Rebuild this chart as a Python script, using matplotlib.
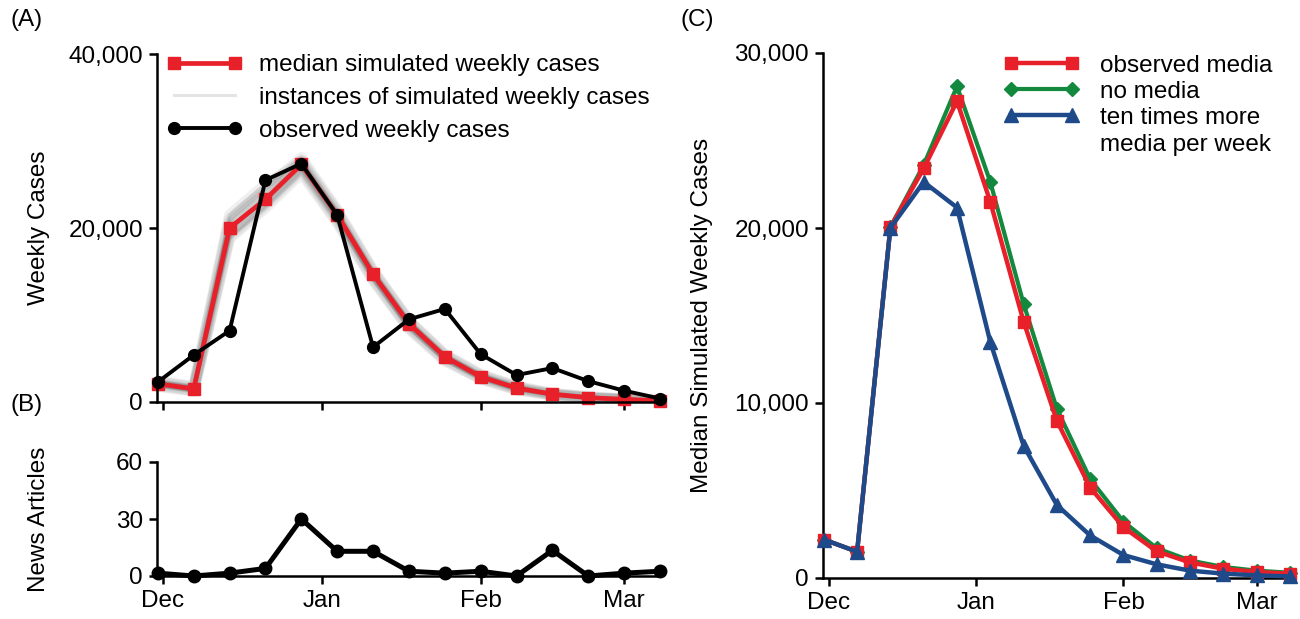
import datetime
import numpy as np
import matplotlib
matplotlib.use("Agg")
import matplotlib.pyplot as plt
import matplotlib.dates as mdates
from matplotlib.ticker import StrMethodFormatter

FS = 17.5
plt.rcParams['font.family'] = ['Liberation Sans', 'DejaVu Sans']
plt.rcParams['font.size'] = FS

# weekly time points
weeks = np.array(['2009-11-30', '2009-12-07', '2009-12-14', '2009-12-21', '2009-12-28',
                  '2010-01-04', '2010-01-11', '2010-01-18', '2010-01-25', '2010-02-01',
                  '2010-02-08', '2010-02-15', '2010-02-22', '2010-03-01', '2010-03-08'],
                 dtype='datetime64[D]')

# (A) weekly cases
observed_cases = [2300, 5400, 8200, 25500, 27400, 21500, 6300, 9500, 10700, 5500,
                  3100, 3900, 2400, 1300, 400]
median_sim = [2100, 1500, 20000, 23300, 27300, 21500, 14700, 9000, 5200, 2900,
              1600, 900, 500, 300, 150]
# a few of the simulated instances (grey cloud)
instances = [
    [2300, 1700, 21000, 24500, 28100, 22100, 15200, 9400, 5500, 3200, 1800, 1000, 600, 350, 200],
    [1900, 1300, 19000, 22600, 26600, 20800, 14100, 8500, 4800, 2700, 1450, 800, 450, 250, 130],
    [2200, 1600, 20600, 24000, 27800, 21900, 14900, 9200, 5300, 3000, 1650, 920, 520, 310, 160],
    [2000, 1400, 19500, 23000, 26900, 21100, 14400, 8700, 5000, 2800, 1550, 850, 480, 280, 140],
    [2400, 1800, 21500, 25000, 27600, 21700, 15000, 9300, 5400, 3100, 1700, 950, 560, 330, 180],
    [1800, 1250, 18800, 22300, 26300, 20600, 14000, 8400, 4750, 2650, 1400, 780, 440, 240, 120],
]

# (B) news articles
news_articles = [1.5, 0, 1.5, 4, 30, 13, 13, 2.5, 1.5, 2.5, 0, 13.5, 0, 1.5, 2.5]

# (C) median simulated weekly cases by media scenario
observed_media = [2200, 1500, 20050, 23400, 27250, 21500, 14650, 8980, 5170, 2900,
                  1520, 890, 530, 340, 250]
no_media = [2200, 1500, 20050, 23600, 28100, 22630, 15670, 9670, 5650, 3220,
            1700, 1000, 630, 420, 300]
ten_times_media = [2200, 1500, 20000, 22630, 21170, 13490, 7560, 4170, 2430, 1310,
                   780, 420, 250, 150, 90]

RED = '#e8202a'
GREEN = '#13893e'
BLUE = '#1f4a8a'

W, H = 1300, 619
fig = plt.figure(figsize=(W / 100, H / 100), dpi=100)


def box(l, t, r, b):
    return [l / W, 1 - b / H, (r - l) / W, (b - t) / H]


axA = fig.add_axes(box(157, 54, 660, 402))
axB = fig.add_axes(box(157, 462, 660, 576))
axC = fig.add_axes(box(823, 53, 1290, 578))

xlim = (datetime.datetime(2009, 11, 29, 20), datetime.datetime(2010, 3, 8))

for ax in (axA, axB, axC):
    ax.spines['top'].set_visible(False)
    ax.spines['right'].set_visible(False)
    ax.spines['left'].set_linewidth(1.8)
    ax.spines['bottom'].set_linewidth(1.8)
    ax.tick_params(direction='out', length=6, width=1.8, pad=4, labelsize=FS)
    ax.xaxis.set_major_locator(mdates.MonthLocator())
    ax.xaxis.set_major_formatter(mdates.DateFormatter('%b'))
    ax.set_xlim(xlim)

# (A)
for inst in instances:
    axA.plot(weeks, inst, color='#303030', lw=8, alpha=0.07, solid_joinstyle='round')
    axA.plot(weeks, inst, color='#505050', lw=2.5, alpha=0.15)
axA.plot([], [], color='#e4e4e4', lw=2.2, label='instances of simulated weekly cases')
axA.plot(weeks, median_sim, color=RED, lw=3.4, marker='s', ms=9, clip_on=False,
         label='median simulated weekly cases')
axA.plot(weeks, observed_cases, color='black', lw=2.8, marker='o', ms=8.5,
         clip_on=False, label='observed weekly cases')
axA.set_ylim(0, 40000)
axA.set_yticks([0, 20000, 40000])
axA.yaxis.set_major_formatter(StrMethodFormatter('{x:,.0f}'))
axA.tick_params(axis='x', labelbottom=False)
axA.set_ylabel('Weekly Cases')
axA.yaxis.set_label_coords(-0.212, 0.5)
h, lab = axA.get_legend_handles_labels()
order = [1, 0, 2]
axA.legend([h[i] for i in order], [lab[i] for i in order], loc='upper left',
           bbox_to_anchor=(0.02, 1.0), frameon=False, numpoints=2, handlelength=3.1,
           handletextpad=0.7, labelspacing=0.45, borderpad=0, borderaxespad=0,
           fontsize=FS)

# (B)
axB.plot(weeks, news_articles, color='black', lw=3.6, marker='o', ms=9, clip_on=False)
axB.set_ylim(0, 60)
axB.set_yticks([0, 30, 60])
axB.set_ylabel('News Articles')
axB.yaxis.set_label_coords(-0.212, 0.5)

# (C)
axC.plot(weeks, no_media, color=GREEN, lw=3, marker='D', ms=7.5, clip_on=False,
         label='no media', zorder=2)
axC.plot(weeks, observed_media, color=RED, lw=3.2, marker='s', ms=9, clip_on=False,
         label='observed media', zorder=3)
axC.plot(weeks, ten_times_media, color=BLUE, lw=3.2, marker='^', ms=10, clip_on=False,
         label='ten times more', zorder=4)
axC.set_ylim(0, 30000)
axC.set_yticks([0, 10000, 20000, 30000])
axC.yaxis.set_major_formatter(StrMethodFormatter('{x:,.0f}'))
axC.set_ylabel('Median Simulated Weekly Cases')
axC.yaxis.set_label_coords(-0.236, 0.5)
h, lab = axC.get_legend_handles_labels()
order = [1, 0, 2]
axC.legend([h[i] for i in order], [lab[i] for i in order], loc='upper left',
           bbox_to_anchor=(0.388, 0.997), frameon=False, numpoints=2, handlelength=3.1,
           handletextpad=0.85, labelspacing=0.17, borderpad=0, borderaxespad=0,
           fontsize=FS)
axC.text(0.593, 1 - (145 - 53) / 525, 'media per week', transform=axC.transAxes,
         fontsize=FS, va='center', ha='left')

fig.text(10 / W, 1 - 20 / H, '(A)', fontsize=FS, va='center', ha='left')
fig.text(10 / W, 1 - 405 / H, '(B)', fontsize=FS, va='center', ha='left')
fig.text(680 / W, 1 - 20 / H, '(C)', fontsize=FS, va='center', ha='left')

fig.savefig('out.png', dpi=100)
